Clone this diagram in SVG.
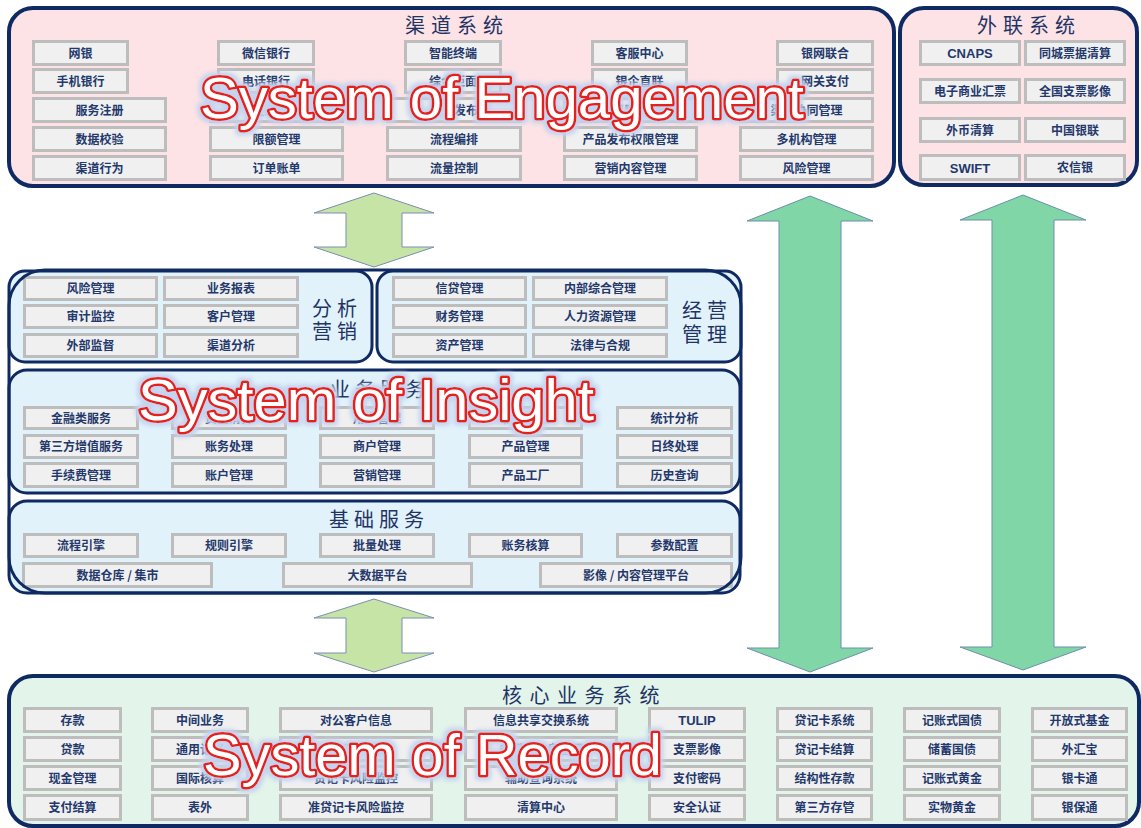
<svg xmlns="http://www.w3.org/2000/svg" width="1141" height="828" viewBox="0 0 1141 828">
<defs>
<style>
.cj{font-family:"Noto Sans CJK SC","Noto Sans",sans-serif;}
.b{fill:#f0f0f0;stroke:#bdbdbd;stroke-width:3;}
.t{font-family:"Noto Sans CJK SC","Noto Sans",sans-serif;font-size:12px;font-weight:bold;fill:#23386c;text-anchor:middle;}
.tl{font-family:"Liberation Sans",Arial,sans-serif;font-size:13px;font-weight:bold;fill:#23386c;text-anchor:middle;}
.h{font-family:"Noto Sans CJK SC","Noto Sans",sans-serif;font-size:20px;fill:#1f3465;}
.ov{font-family:"Liberation Sans",Arial,sans-serif;font-size:58px;fill:#ffffff;stroke:#e3211f;stroke-width:5;paint-order:stroke;stroke-linejoin:round;}
.sa{fill:#c6e4a6;stroke:#7b8fb2;stroke-width:1;}
.ba{fill:#80d6a6;stroke:#6d8fac;stroke-width:1;}
</style>
<filter id="glow" x="-10%" y="-40%" width="120%" height="180%">
<feMorphology in="SourceAlpha" operator="dilate" radius="2.5" result="d"/>
<feGaussianBlur in="d" stdDeviation="2" result="bl"/>
<feFlood flood-color="#c5d3ee"/>
<feComposite in2="bl" operator="in" result="g"/>
<feMerge><feMergeNode in="g"/><feMergeNode in="SourceGraphic"/></feMerge>
</filter>
</defs>
<rect width="1141" height="828" fill="#ffffff"/>

<!-- Channel system -->
<g id="channel">
<rect x="9" y="8" width="885" height="178" rx="24" fill="#fde3e5" stroke="#0f2a62" stroke-width="4"/>
<text class="h" x="405" y="33" letter-spacing="6">渠道系统</text>
<rect class="b" x="33.5" y="41.5" width="94" height="23"/><text class="t" x="80.5" y="57.5">网银</text>
<rect class="b" x="218.5" y="41.5" width="95" height="23"/><text class="t" x="266" y="57.5">微信银行</text>
<rect class="b" x="405.5" y="41.5" width="95" height="23"/><text class="t" x="453" y="57.5">智能终端</text>
<rect class="b" x="592.5" y="41.5" width="94" height="23"/><text class="t" x="639.5" y="57.5">客服中心</text>
<rect class="b" x="777.5" y="41.5" width="95" height="23"/><text class="t" x="825" y="57.5">银网联合</text>
<rect class="b" x="33.5" y="69.5" width="94" height="23"/><text class="t" x="80.5" y="85.5">手机银行</text>
<rect class="b" x="218.5" y="69.5" width="95" height="23"/><text class="t" x="266" y="85.5">电话银行</text>
<rect class="b" x="405.5" y="69.5" width="95" height="23"/><text class="t" x="453" y="85.5">综合柜面</text>
<rect class="b" x="592.5" y="69.5" width="94" height="23"/><text class="t" x="639.5" y="85.5">银企直联</text>
<rect class="b" x="777.5" y="69.5" width="95" height="23"/><text class="t" x="825" y="85.5">网关支付</text>
<rect class="b" x="33.5" y="98.5" width="132" height="23"/><text class="t" x="99.5" y="114.5">服务注册</text>
<rect class="b" x="210.5" y="98.5" width="132" height="23"/><text class="t" x="276.5" y="114.5">签约管理</text>
<rect class="b" x="387.5" y="98.5" width="133" height="23"/><text class="t" x="454" y="114.5">业务发布</text>
<rect class="b" x="564.5" y="98.5" width="132" height="23"/><text class="t" x="630.5" y="114.5">产品风险自定义</text>
<rect class="b" x="740.5" y="98.5" width="132" height="23"/><text class="t" x="806.5" y="114.5">渠道协同管理</text>
<rect class="b" x="33.5" y="127.5" width="132" height="23"/><text class="t" x="99.5" y="143.5">数据校验</text>
<rect class="b" x="210.5" y="127.5" width="132" height="23"/><text class="t" x="276.5" y="143.5">限额管理</text>
<rect class="b" x="387.5" y="127.5" width="133" height="23"/><text class="t" x="454" y="143.5">流程编排</text>
<rect class="b" x="564.5" y="127.5" width="132" height="23"/><text class="t" x="630.5" y="143.5">产品发布权限管理</text>
<rect class="b" x="740.5" y="127.5" width="132" height="23"/><text class="t" x="806.5" y="143.5">多机构管理</text>
<rect class="b" x="33.5" y="156.5" width="132" height="23"/><text class="t" x="99.5" y="172.5">渠道行为</text>
<rect class="b" x="210.5" y="156.5" width="132" height="23"/><text class="t" x="276.5" y="172.5">订单账单</text>
<rect class="b" x="387.5" y="156.5" width="133" height="23"/><text class="t" x="454" y="172.5">流量控制</text>
<rect class="b" x="564.5" y="156.5" width="132" height="23"/><text class="t" x="630.5" y="172.5">营销内容管理</text>
<rect class="b" x="740.5" y="156.5" width="132" height="23"/><text class="t" x="806.5" y="172.5">风险管理</text>
</g>

<!-- External system -->
<g id="external">
<rect x="900" y="8" width="237" height="177" rx="24" fill="#fde3e5" stroke="#0f2a62" stroke-width="4"/>
<text class="h" x="977" y="33" letter-spacing="6">外联系统</text>
<rect class="b" x="920.5" y="41.5" width="99" height="23"/><text class="tl" x="970" y="58">CNAPS</text>
<rect class="b" x="1025.5" y="41.5" width="99" height="23"/><text class="t" x="1075" y="57.5">同城票据清算</text>
<rect class="b" x="920.5" y="79.5" width="99" height="23"/><text class="t" x="970" y="95.5">电子商业汇票</text>
<rect class="b" x="1025.5" y="79.5" width="99" height="23"/><text class="t" x="1075" y="95.5">全国支票影像</text>
<rect class="b" x="920.5" y="118.5" width="99" height="23"/><text class="t" x="970" y="134.5">外币清算</text>
<rect class="b" x="1025.5" y="118.5" width="99" height="23"/><text class="t" x="1075" y="134.5">中国银联</text>
<rect class="b" x="920.5" y="155.5" width="99" height="24"/><text class="tl" x="970" y="172.5">SWIFT</text>
<rect class="b" x="1025.5" y="155.5" width="99" height="24"/><text class="t" x="1075" y="172">农信银</text>
</g>

<!-- Connectors -->
<g id="connectors">
<polygon class="sa" points="374,193 434,213 402,213 402,247 434,247 374,267 314,247 346,247 346,213 314,213"/>
<polygon class="sa" points="374,599 434,618 402,618 402,653 434,653 374,672 314,653 346,653 346,618 314,618"/>
<polygon class="ba" points="810,196 873,221 841,221 841,648 873,648 810,672 747,648 779,648 779,221 747,221"/>
<polygon class="ba" points="1023,195 1086,220 1054,220 1054,647 1086,647 1023,670 960,647 992,647 992,220 960,220"/>
</g>

<!-- Analysis & marketing -->
<g id="analysis">
<rect x="9" y="271" width="363" height="91" rx="16" fill="#e2f2fb" stroke="#0f2a62" stroke-width="3"/>
<rect class="b" x="24.5" y="277.5" width="132" height="22"/><text class="t" x="90.5" y="293">风险管理</text>
<rect class="b" x="164.5" y="277.5" width="133" height="22"/><text class="t" x="231" y="293">业务报表</text>
<rect class="b" x="24.5" y="305.5" width="132" height="22"/><text class="t" x="90.5" y="321">审计监控</text>
<rect class="b" x="164.5" y="305.5" width="133" height="22"/><text class="t" x="231" y="321">客户管理</text>
<rect class="b" x="24.5" y="334.5" width="132" height="22"/><text class="t" x="90.5" y="350">外部监督</text>
<rect class="b" x="164.5" y="334.5" width="133" height="22"/><text class="t" x="231" y="350">渠道分析</text>
<text class="h" x="312" y="316" font-size="21" letter-spacing="5">分析</text>
<text class="h" x="312" y="339" font-size="21" letter-spacing="5">营销</text>
</g>

<!-- Operations management -->
<g id="management">
<rect x="377" y="271" width="364" height="91" rx="16" fill="#e2f2fb" stroke="#0f2a62" stroke-width="3"/>
<rect class="b" x="393.5" y="277.5" width="132" height="22"/><text class="t" x="459.5" y="293">信贷管理</text>
<rect class="b" x="533.5" y="277.5" width="133" height="22"/><text class="t" x="600" y="293">内部综合管理</text>
<rect class="b" x="393.5" y="305.5" width="132" height="22"/><text class="t" x="459.5" y="321">财务管理</text>
<rect class="b" x="533.5" y="305.5" width="133" height="22"/><text class="t" x="600" y="321">人力资源管理</text>
<rect class="b" x="393.5" y="334.5" width="132" height="22"/><text class="t" x="459.5" y="350">资产管理</text>
<rect class="b" x="533.5" y="334.5" width="133" height="22"/><text class="t" x="600" y="350">法律与合规</text>
<text class="h" x="682" y="318" font-size="21" letter-spacing="5">经营</text>
<text class="h" x="682" y="342" font-size="21" letter-spacing="5">管理</text>
</g>

<!-- Business services -->
<g id="business">
<rect x="9" y="370" width="731" height="123" rx="18" fill="#e2f2fb" stroke="#0f2a62" stroke-width="3"/>
<text class="h" x="330" y="397" letter-spacing="5">业务服务</text>
<rect class="b" x="24.5" y="407.5" width="113" height="21"/><text class="t" x="81" y="422.5">金融类服务</text>
<rect class="b" x="172.5" y="407.5" width="113" height="21"/><text class="t" x="229" y="422.5">资金清算</text>
<rect class="b" x="320.5" y="407.5" width="113" height="21"/><text class="t" x="377" y="422.5">用户管理</text>
<rect class="b" x="469.5" y="407.5" width="112" height="21"/><text class="t" x="525.5" y="422.5">积分管理</text>
<rect class="b" x="617.5" y="407.5" width="114" height="21"/><text class="t" x="674.5" y="422.5">统计分析</text>
<rect class="b" x="24.5" y="435.5" width="113" height="22"/><text class="t" x="81" y="451">第三方增值服务</text>
<rect class="b" x="172.5" y="435.5" width="113" height="22"/><text class="t" x="229" y="451">账务处理</text>
<rect class="b" x="320.5" y="435.5" width="113" height="22"/><text class="t" x="377" y="451">商户管理</text>
<rect class="b" x="469.5" y="435.5" width="112" height="22"/><text class="t" x="525.5" y="451">产品管理</text>
<rect class="b" x="617.5" y="435.5" width="114" height="22"/><text class="t" x="674.5" y="451">日终处理</text>
<rect class="b" x="24.5" y="463.5" width="113" height="23"/><text class="t" x="81" y="479.5">手续费管理</text>
<rect class="b" x="172.5" y="463.5" width="113" height="23"/><text class="t" x="229" y="479.5">账户管理</text>
<rect class="b" x="320.5" y="463.5" width="113" height="23"/><text class="t" x="377" y="479.5">营销管理</text>
<rect class="b" x="469.5" y="463.5" width="112" height="23"/><text class="t" x="525.5" y="479.5">产品工厂</text>
<rect class="b" x="617.5" y="463.5" width="114" height="23"/><text class="t" x="674.5" y="479.5">历史查询</text>
</g>

<!-- Foundation services -->
<g id="foundation">
<rect x="9" y="501" width="731" height="92" rx="18" fill="#e2f2fb" stroke="#0f2a62" stroke-width="3"/>
<text class="h" x="329" y="527" letter-spacing="5">基础服务</text>
<rect class="b" x="24.5" y="534.5" width="113" height="22"/><text class="t" x="81" y="550">流程引擎</text>
<rect class="b" x="172.5" y="534.5" width="113" height="22"/><text class="t" x="229" y="550">规则引擎</text>
<rect class="b" x="320.5" y="534.5" width="113" height="22"/><text class="t" x="377" y="550">批量处理</text>
<rect class="b" x="469.5" y="534.5" width="112" height="22"/><text class="t" x="525.5" y="550">账务核算</text>
<rect class="b" x="617.5" y="534.5" width="114" height="22"/><text class="t" x="674.5" y="550">参数配置</text>
<rect class="b" x="23.5" y="563.5" width="188" height="23"/><text class="t" x="117.5" y="579.5">数据仓库 / 集市</text>
<rect class="b" x="283.5" y="563.5" width="188" height="23"/><text class="t" x="377.5" y="579.5">大数据平台</text>
<rect class="b" x="540.5" y="563.5" width="191" height="23"/><text class="t" x="636" y="579.5">影像 / 内容管理平台</text>
</g>

<g id="middle-frame">
<rect x="9" y="270" width="732" height="323" rx="36" fill="none" stroke="#0f2a62" stroke-width="3"/>
</g>

<!-- Core business system -->
<g id="core">
<rect x="9" y="676" width="1130" height="150" rx="24" fill="#e3f4ea" stroke="#0f2a62" stroke-width="4"/>
<text class="h" x="502" y="703" font-size="18" letter-spacing="7.5">核心业务系统</text>
<rect class="b" x="24.5" y="708.5" width="96" height="23"/><text class="t" x="72.5" y="724.5">存款</text>
<rect class="b" x="152.5" y="708.5" width="95" height="23"/><text class="t" x="200" y="724.5">中间业务</text>
<rect class="b" x="280.5" y="708.5" width="151" height="23"/><text class="t" x="356" y="724.5">对公客户信息</text>
<rect class="b" x="465.5" y="708.5" width="151" height="23"/><text class="t" x="541" y="724.5">信息共享交换系统</text>
<rect class="b" x="649.5" y="708.5" width="95" height="23"/><text class="tl" x="697" y="725">TULIP</text>
<rect class="b" x="777.5" y="708.5" width="94" height="23"/><text class="t" x="824.5" y="724.5">贷记卡系统</text>
<rect class="b" x="904.5" y="708.5" width="95" height="23"/><text class="t" x="952" y="724.5">记账式国债</text>
<rect class="b" x="1032.5" y="708.5" width="94" height="23"/><text class="t" x="1079.5" y="724.5">开放式基金</text>
<rect class="b" x="24.5" y="737.5" width="96" height="23"/><text class="t" x="72.5" y="753.5">贷款</text>
<rect class="b" x="152.5" y="737.5" width="95" height="23"/><text class="t" x="200" y="753.5">通用记账</text>
<rect class="b" x="280.5" y="737.5" width="151" height="23"/><text class="t" x="356" y="753.5">个人客户信息</text>
<rect class="b" x="465.5" y="737.5" width="151" height="23"/><text class="t" x="541" y="753.5">多媒体信息管理</text>
<rect class="b" x="649.5" y="737.5" width="95" height="23"/><text class="t" x="697" y="753.5">支票影像</text>
<rect class="b" x="777.5" y="737.5" width="94" height="23"/><text class="t" x="824.5" y="753.5">贷记卡结算</text>
<rect class="b" x="904.5" y="737.5" width="95" height="23"/><text class="t" x="952" y="753.5">储蓄国债</text>
<rect class="b" x="1032.5" y="737.5" width="94" height="23"/><text class="t" x="1079.5" y="753.5">外汇宝</text>
<rect class="b" x="24.5" y="766.5" width="96" height="23"/><text class="t" x="72.5" y="782.5">现金管理</text>
<rect class="b" x="152.5" y="766.5" width="95" height="23"/><text class="t" x="200" y="782.5">国际核算</text>
<rect class="b" x="280.5" y="766.5" width="151" height="23"/><text class="t" x="356" y="782.5">贷记卡风险监控</text>
<rect class="b" x="465.5" y="766.5" width="151" height="23"/><text class="t" x="541" y="782.5">辅助查询系统</text>
<rect class="b" x="649.5" y="766.5" width="95" height="23"/><text class="t" x="697" y="782.5">支付密码</text>
<rect class="b" x="777.5" y="766.5" width="94" height="23"/><text class="t" x="824.5" y="782.5">结构性存款</text>
<rect class="b" x="904.5" y="766.5" width="95" height="23"/><text class="t" x="952" y="782.5">记账式黄金</text>
<rect class="b" x="1032.5" y="766.5" width="94" height="23"/><text class="t" x="1079.5" y="782.5">银卡通</text>
<rect class="b" x="24.5" y="795.5" width="96" height="24"/><text class="t" x="72.5" y="812">支付结算</text>
<rect class="b" x="152.5" y="795.5" width="95" height="24"/><text class="t" x="200" y="812">表外</text>
<rect class="b" x="280.5" y="795.5" width="151" height="24"/><text class="t" x="356" y="812">准贷记卡风险监控</text>
<rect class="b" x="465.5" y="795.5" width="151" height="24"/><text class="t" x="541" y="812">清算中心</text>
<rect class="b" x="649.5" y="795.5" width="95" height="24"/><text class="t" x="697" y="812">安全认证</text>
<rect class="b" x="777.5" y="795.5" width="94" height="24"/><text class="t" x="824.5" y="812">第三方存管</text>
<rect class="b" x="904.5" y="795.5" width="95" height="24"/><text class="t" x="952" y="812">实物黄金</text>
<rect class="b" x="1032.5" y="795.5" width="94" height="24"/><text class="t" x="1079.5" y="812">银保通</text>
</g>

<!-- Overlay labels -->
<g id="overlay-labels" filter="url(#glow)">
<text class="ov" x="200" y="118" textLength="604" lengthAdjust="spacingAndGlyphs">System of Engagement</text>
<text class="ov" x="138" y="420" textLength="456" lengthAdjust="spacingAndGlyphs">System of Insight</text>
<text class="ov" x="203" y="775" textLength="459" lengthAdjust="spacingAndGlyphs">System of Record</text>
</g>
</svg>
